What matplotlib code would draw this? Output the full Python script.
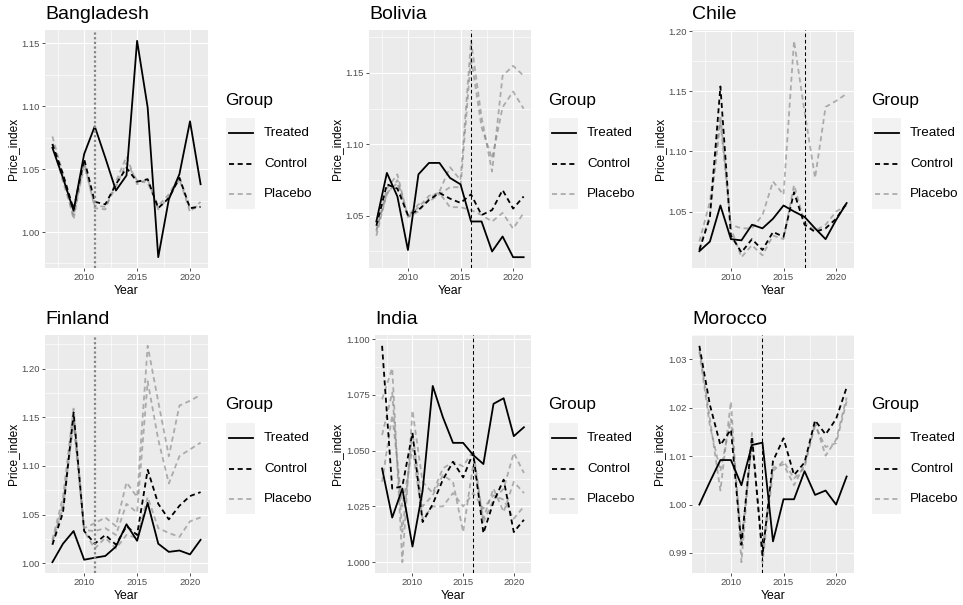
import matplotlib
matplotlib.use('Agg')
import matplotlib.pyplot as plt
from matplotlib.ticker import MultipleLocator, FormatStrFormatter
from matplotlib.patches import Rectangle
from matplotlib.lines import Line2D

plt.rcParams['font.family'] = ['Liberation Sans', 'DejaVu Sans']

years = list(range(2007, 2022))
countries = ['Bangladesh', 'Bolivia', 'Chile', 'Finland', 'India', 'Morocco']
treatment_year = [2011, 2016, 2017, 2011, 2016, 2013]
group_labels = ['Treated', 'Control', 'Placebo']

bangladesh_treated = [1.067, 1.043, 1.017, 1.062, 1.084, 1.059, 1.033, 1.045, 1.152, 1.099, 0.980, 1.026, 1.046, 1.088, 1.038]
bangladesh_control = [1.070, 1.046, 1.018, 1.058, 1.024, 1.022, 1.038, 1.051, 1.040, 1.042, 1.019, 1.027, 1.043, 1.019, 1.020]
bangladesh_placebo1 = [1.076, 1.046, 1.010, 1.056, 1.019, 1.018, 1.040, 1.060, 1.038, 1.042, 1.018, 1.028, 1.042, 1.016, 1.024]
bangladesh_placebo2 = [1.070, 1.040, 1.013, 1.053, 1.021, 1.020, 1.036, 1.055, 1.041, 1.039, 1.021, 1.030, 1.044, 1.019, 1.021]

bolivia_treated = [1.046, 1.080, 1.0635, 1.026, 1.079, 1.087, 1.087, 1.0765, 1.072, 1.046, 1.046, 1.025, 1.0355, 1.021, 1.021]
bolivia_control = [1.043, 1.072, 1.069, 1.0505, 1.054, 1.061, 1.066, 1.062, 1.059, 1.065, 1.0505, 1.054, 1.068, 1.055, 1.0635]
bolivia_placebo1 = [1.039, 1.069, 1.079, 1.049, 1.053, 1.062, 1.067, 1.084, 1.075, 1.1725, 1.119, 1.081, 1.148, 1.155, 1.148]
bolivia_placebo2 = [1.040, 1.065, 1.075, 1.050, 1.058, 1.060, 1.065, 1.070, 1.070, 1.161, 1.112, 1.090, 1.126, 1.137, 1.125]
bolivia_placebo3 = [1.036, 1.066, 1.073, 1.049, 1.056, 1.064, 1.066, 1.056, 1.056, 1.054, 1.0505, 1.046, 1.052, 1.041, 1.052]

chile_treated = [1.017, 1.025, 1.055, 1.027, 1.026, 1.039, 1.036, 1.044, 1.055, 1.050, 1.0455, 1.036, 1.027, 1.043, 1.057]
chile_control = [1.018, 1.045, 1.154, 1.030, 1.016, 1.027, 1.018, 1.033, 1.029, 1.066, 1.039, 1.033, 1.036, 1.044, 1.057]
chile_placebo1 = [1.025, 1.058, 1.130, 1.039, 1.036, 1.036, 1.047, 1.075, 1.064, 1.192, 1.133, 1.078, 1.137, 1.142, 1.148]
chile_placebo2 = [1.019, 1.047, 1.125, 1.036, 1.012, 1.022, 1.0135, 1.030, 1.027, 1.072, 1.041, 1.034, 1.039, 1.050, 1.055]

finland_treated = [1.001, 1.020, 1.033, 1.0035, 1.0056, 1.0074, 1.017, 1.040, 1.023, 1.062, 1.020, 1.0116, 1.013, 1.009, 1.024]
finland_control = [1.019, 1.052, 1.155, 1.033, 1.020, 1.029, 1.019, 1.038, 1.029, 1.096, 1.061, 1.045, 1.059, 1.069, 1.073]
finland_placebo1 = [1.024, 1.068, 1.159, 1.036, 1.041, 1.047, 1.038, 1.083, 1.068, 1.2235, 1.166, 1.110, 1.162, 1.167, 1.173]
finland_placebo2 = [1.019, 1.061, 1.148, 1.034, 1.033, 1.036, 1.029, 1.061, 1.052, 1.187, 1.127, 1.082, 1.110, 1.117, 1.124]
finland_placebo3 = [1.022, 1.057, 1.145, 1.033, 1.015, 1.026, 1.015, 1.029, 1.026, 1.068, 1.036, 1.031, 1.027, 1.043, 1.047]

india_treated = [1.042, 1.020, 1.033, 1.007, 1.032, 1.079, 1.065, 1.0535, 1.0535, 1.048, 1.044, 1.071, 1.0735, 1.0565, 1.0605]
india_control = [1.097, 1.033, 1.034, 1.058, 1.018, 1.026, 1.037, 1.045, 1.038, 1.049, 1.013, 1.027, 1.037, 1.0135, 1.019]
india_placebo1 = [1.073, 1.087, 1.000, 1.068, 1.036, 1.031, 1.042, 1.045, 1.043, 1.050, 1.018, 1.028, 1.033, 1.049, 1.040]
india_placebo2 = [1.057, 1.076, 1.0135, 1.058, 1.025, 1.030, 1.039, 1.036, 1.0135, 1.044, 1.0195, 1.033, 1.0225, 1.036, 1.031]
india_placebo3 = [1.036, 1.066, 1.025, 1.051, 1.0195, 1.025, 1.025, 1.031, 1.025, 1.031, 1.024, 1.030, 1.028, 1.0195, 1.025]

morocco_treated = [1.000, 1.0047, 1.0092, 1.0092, 1.004, 1.0123, 1.0128, 0.9924, 1.0011, 1.0011, 1.0069, 1.002, 1.0029, 1.000, 1.0058]
morocco_control = [1.0328, 1.0206, 1.0123, 1.0155, 0.9917, 1.0141, 0.9895, 1.009, 1.0137, 1.0061, 1.0087, 1.0174, 1.0145, 1.0177, 1.0242]
morocco_placebo1 = [1.0322, 1.0177, 1.0029, 1.0213, 0.9881, 1.0148, 0.9881, 1.0069, 1.009, 1.0054, 1.0076, 1.017, 1.0101, 1.0134, 1.0221]
morocco_placebo2 = [1.0315, 1.0163, 1.0069, 1.0177, 0.9924, 1.0127, 0.991, 1.0076, 1.0083, 1.004, 1.0083, 1.0163, 1.0119, 1.0127, 1.0213]

treated = [bangladesh_treated, bolivia_treated, chile_treated, finland_treated, india_treated, morocco_treated]
control = [bangladesh_control, bolivia_control, chile_control, finland_control, india_control, morocco_control]
placebos = [
    [bangladesh_placebo1, bangladesh_placebo2],
    [bolivia_placebo1, bolivia_placebo2, bolivia_placebo3],
    [chile_placebo1, chile_placebo2],
    [finland_placebo1, finland_placebo2, finland_placebo3],
    [india_placebo1, india_placebo2, india_placebo3],
    [morocco_placebo1, morocco_placebo2],
]

# layout / style (pixels)
W, H = 963, 605
panel_left = [45, 369, 692, 45, 375, 692]
panel_right = [208, 531, 854, 208, 531, 854]
panel_top = [30, 30, 30, 335, 335, 335]
panel_h = 238
ytick_step = [0.05, 0.05, 0.05, 0.05, 0.025, 0.01]
ytick_fmt = ['%.2f', '%.2f', '%.2f', '%.2f', '%.3f', '%.2f']
vline_style = ['grey', 'black', 'black', 'grey', 'black', 'black']

PLACEBO_COLOR = '#808080'
PLACEBO_ALPHA = 0.6
DASH = (2.8, 2.0)
LW = 1.3

fig = plt.figure(figsize=(W / 100, H / 100), dpi=100)
fig.patch.set_facecolor('white')


def fx(px):
    return px / W


def fy(py):
    return 1 - py / H


for i, name in enumerate(countries):
    l, r, t = panel_left[i], panel_right[i], panel_top[i]
    ax = fig.add_axes([fx(l), fy(t + panel_h), (r - l) / W, panel_h / H])
    ax.set_facecolor('#EBEBEB')
    for s in ax.spines.values():
        s.set_visible(False)

    for p in placebos[i]:
        ax.plot(years, p, color=PLACEBO_COLOR, alpha=PLACEBO_ALPHA, lw=LW, dashes=DASH)
    ax.plot(years, control[i], color='black', lw=LW, dashes=DASH)
    ax.plot(years, treated[i], color='black', lw=LW)

    if vline_style[i] == 'grey':
        ax.axvline(treatment_year[i], color='#858585', lw=1.6, dashes=(1.0, 1.1))
    else:
        ax.axvline(treatment_year[i], color='black', lw=0.75, dashes=(3.5, 2.5))

    ax.margins(x=0.05, y=0.05)
    ax.xaxis.set_major_locator(MultipleLocator(5))
    ax.xaxis.set_minor_locator(MultipleLocator(2.5))
    ax.yaxis.set_major_locator(MultipleLocator(ytick_step[i]))
    ax.yaxis.set_minor_locator(MultipleLocator(ytick_step[i] / 2))
    ax.yaxis.set_major_formatter(FormatStrFormatter(ytick_fmt[i]))
    ax.grid(which='major', color='white', lw=0.85)
    ax.grid(which='minor', color='white', lw=0.45)
    ax.set_axisbelow(True)
    ax.tick_params(which='major', length=2.2, width=0.6, color='#333333',
                   labelsize=6.8, labelcolor='#4D4D4D', pad=1.5)
    ax.tick_params(which='minor', length=0)

    ax.set_title(name, loc='left', fontsize=14, pad=8)
    ax.set_xlabel('Year', fontsize=8.8, labelpad=2.2)
    ax.set_ylabel('Price_index', fontsize=8.6, labelpad=2.0)

    # legend (drawn in figure pixels)
    center = t + panel_h / 2
    box_left = r + 18
    key_w, key_h = 29, 30.5
    fig.text(fx(box_left - 1), fy(center - 49), 'Group', fontsize=12.4, va='center', ha='left')
    styles = [dict(color='black', lw=LW),
              dict(color='black', lw=LW, dashes=DASH),
              dict(color=PLACEBO_COLOR, alpha=PLACEBO_ALPHA, lw=LW, dashes=DASH)]
    fig.add_artist(Rectangle((fx(box_left), fy(center - 16 + 30.5 * 2 + key_h / 2)),
                             key_w / W, 3 * key_h / H, transform=fig.transFigure,
                             facecolor='#F2F2F2', edgecolor='none'))
    for k, lab in enumerate(group_labels):
        yc = center - 16 + 30.5 * k
        fig.add_artist(Line2D([fx(box_left + 2.5), fx(box_left + key_w - 2.5)], [fy(yc), fy(yc)],
                              transform=fig.transFigure, **styles[k]))
        fig.text(fx(r + 56), fy(yc), lab, fontsize=9.6, va='center', ha='left')

fig.savefig('out.png', dpi=100)
